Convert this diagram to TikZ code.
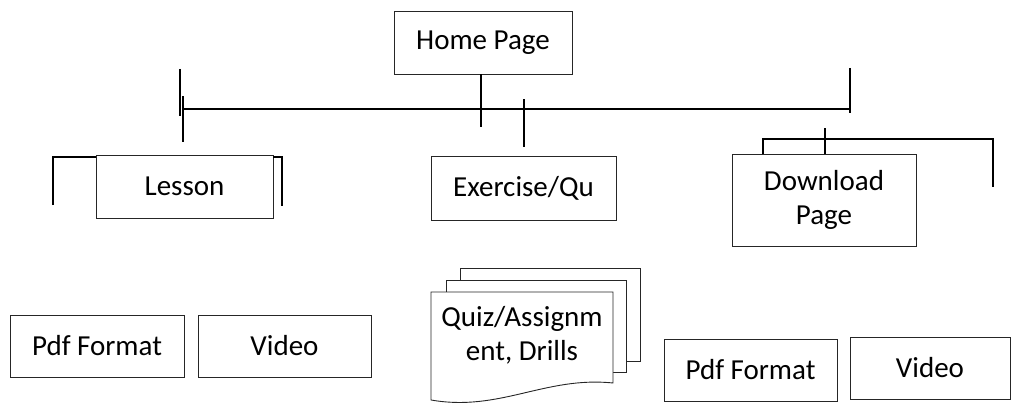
\documentclass[tikz,border=0pt]{standalone}
\usepackage{fontspec}
\setmainfont{Carlito}
\begin{document}
\begin{tikzpicture}[x=1pt,y=-1pt,
  label text/.style={font=\fontsize{29}{34}\selectfont, align=center, inner sep=0pt},
  box/.style={label text, draw=black!85, line width=0.9pt, fill=white},
  page/.style={draw=black!85, line width=0.9pt},
  wire/.style={draw=black, line width=1.2pt}]
\useasboundingbox (0,0) rectangle (1012,404);

% top level
\node[box, minimum width=178pt, minimum height=63pt] (home) at (483,42.5) {Home Page};

% second level
\node[box, minimum width=177pt, minimum height=63pt] (lesson) at (184.5,186.5) {Lesson};
\node[box, minimum width=185pt, minimum height=64pt] (exercise) at (523.5,188) {Exercise/Qu};
\node[box, minimum width=184pt, minimum height=92pt] (download) at (824,200) {Download\\Page};

% bottom level
\node[box, minimum width=174pt, minimum height=62pt] (pdfA) at (97,346) {Pdf Format};
\node[box, minimum width=173pt, minimum height=62pt] (videoA) at (284.5,346) {Video};
\node[box, minimum width=173pt, minimum height=62pt] (pdfB) at (750.5,370) {Pdf Format};
\node[box, minimum width=160pt, minimum height=62pt] (videoB) at (930,368) {Video};

% stacked documents
\draw[page] (460,280) -- (460,268) -- (640,268) -- (640,361) -- (626,361);
\draw[page] (446,292) -- (446,280) -- (626,280) -- (626,372) -- (613,372);
\draw[page, fill=white] (431,292) -- (613,292) -- (613,383)
  .. controls (545,376) and (500,412) .. (431,400) -- cycle;
\node[label text] (quiz) at (522,335) {Quiz/Assignm\\ent, Drills};

% connector fragments
\coordinate (hl) at (183,109);
\coordinate (hr) at (850,109);
\draw[wire] (hl) -- (hr);
\draw[wire] (180,69) -- (180,116);
\draw[wire] (183,96) -- (183,142);
\draw[wire] (home.south -| 481,0) -- (481,127);
\draw[wire] (524,99) -- (524,147);
\draw[wire] (850,68) -- (850,113);

% brackets beside Lesson
\draw[wire] (53,205) -- (53,157) -- (lesson.north west |- 0,157);
\draw[wire] (lesson.north east |- 0,157) -- (282,157) -- (282,206);

% bracket above Download Page
\draw[wire] (763,154) -- (763,139) -- (993,139) -- (993,187);
\draw[wire] (825,128) -- (825,154);
\end{tikzpicture}
\end{document}
